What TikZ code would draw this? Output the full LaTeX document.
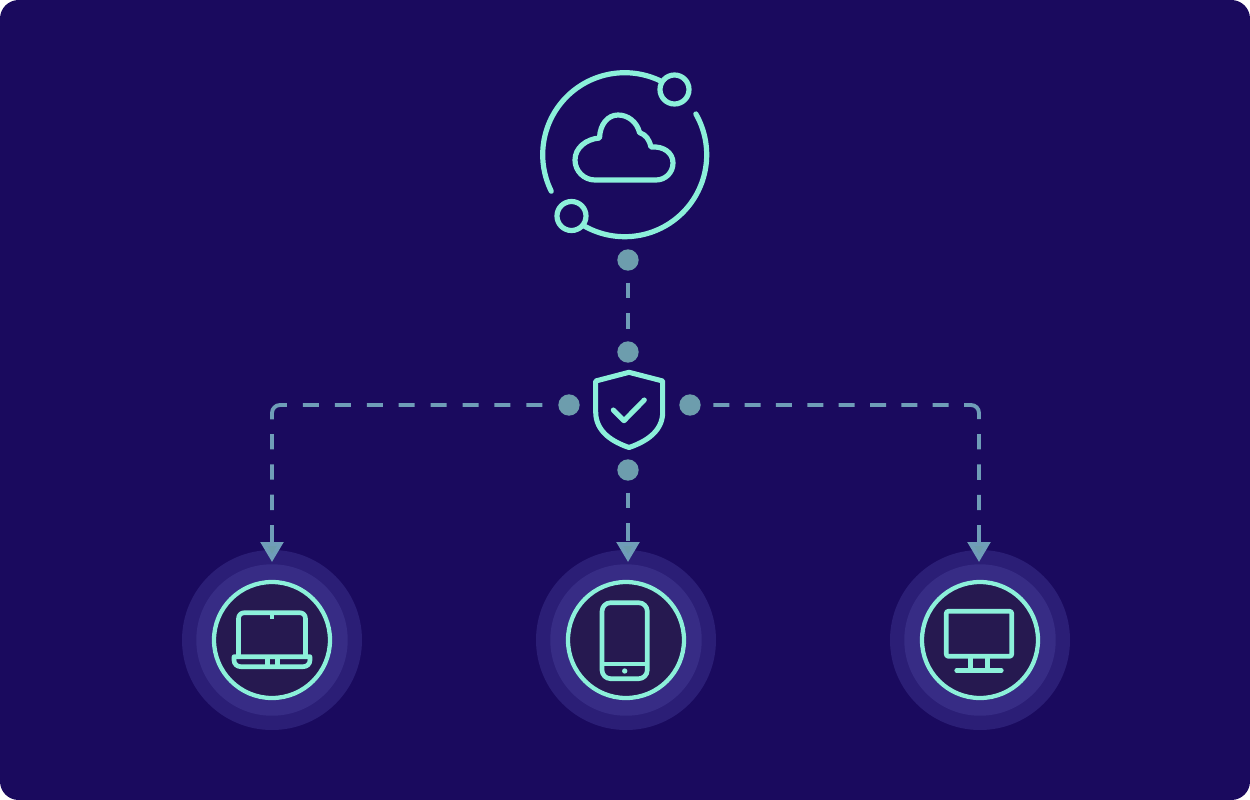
\documentclass[tikz,border=0pt]{standalone}
\usetikzlibrary{arrows.meta}
\definecolor{bgc}{HTML}{1A0A5E}
\definecolor{mint}{HTML}{8CF0DA}
\definecolor{steel}{HTML}{6D9DAD}
\definecolor{dashc}{HTML}{6F9DB8}
\definecolor{haloa}{HTML}{2B1E76}
\definecolor{halob}{HTML}{372C85}
\definecolor{haloc}{HTML}{261950}
\tikzset{
  iconline/.style={draw=mint,line width=3.5pt,line cap=round,line join=round},
  bigline/.style={draw=mint,line width=3.9pt,line cap=round,line join=round},
  haloouter/.style={circle,fill=haloa,inner sep=0pt,outer sep=0pt,minimum size=135pt},
  halomid/.style={circle,fill=halob,inner sep=0pt,outer sep=0pt,minimum size=113.6pt},
  ringnode/.style={circle,draw=mint,fill=haloc,line width=3.2pt,inner sep=0pt,outer sep=0pt,minimum size=87pt},
  dotnode/.style={circle,fill=steel,inner sep=0pt,outer sep=0pt,minimum size=16pt},
  planet/.style={circle,draw=mint,fill=bgc,line width=3.9pt,inner sep=0pt,outer sep=0pt,minimum size=21.75pt},
  flowline/.style={draw=dashc,line width=2.9pt,-{Triangle[width=16.9pt,length=15pt,fill=steel]},shorten >=1.7pt},
  plainflow/.style={draw=dashc,line width=2.9pt},
}
\begin{document}
\begin{tikzpicture}[x=0.75pt,y=-0.75pt]
\useasboundingbox (0,0) rectangle (1250,800);
\fill[white] (0,0) rectangle (1250,800);
\fill[bgc,rounded corners=14pt] (0,0) rectangle (1250,800);

% device halos
\node[haloouter] (haloL) at (272,640) {};
\node[halomid]   (midL)  at (272,640) {};
\node[ringnode]  (ringL) at (272,640) {};
\node[haloouter] (haloM) at (626,640) {};
\node[halomid]   (midM)  at (626,640) {};
\node[ringnode]  (ringM) at (626,640) {};
\node[haloouter] (haloR) at (980,640) {};
\node[halomid]   (midR)  at (980,640) {};
\node[ringnode]  (ringR) at (980,640) {};

% dots
\node[dotnode] (dotC) at (628,260) {};
\node[dotnode] (dotT) at (628,352) {};
\node[dotnode] (dotL) at (569,405) {};
\node[dotnode] (dotR) at (690,405) {};
\node[dotnode] (dotB) at (628,470) {};
\coordinate (cornerL) at (272,405);
\coordinate (cornerR) at (979,405);

% connectors
\draw[plainflow,dash pattern=on 0pt off 9pt on 11.7pt off 11.25pt on 11.8pt off 30pt] (dotC.south) -- (dotT.north);
\draw[flowline,dash pattern=on 0pt off 9pt on 11.7pt off 11.25pt on 13.5pt off 30pt] (dotB.south) -- (dotB.south |- midM.north);
\draw[flowline,rounded corners=6pt,
  dash pattern=on 0pt off 12pt on 12pt off 11.93pt on 12pt off 11.93pt on 12pt off 11.93pt on 12pt off 11.93pt on 12pt off 11.93pt on 12pt off 11.93pt on 12pt off 11.93pt on 12pt off 12pt on 19.4pt off 11pt on 11.5pt off 11.25pt on 11.5pt off 11.25pt on 11.5pt off 11.25pt on 13.5pt off 30pt]
  (dotL.west) -- (cornerL) -- (cornerL |- midL.north);
\draw[flowline,rounded corners=6pt,
  dash pattern=on 0pt off 9.45pt on 12pt off 11.51pt on 12pt off 11.51pt on 12pt off 11.51pt on 12pt off 11.51pt on 12pt off 11.51pt on 12pt off 11.51pt on 12pt off 11.51pt on 12pt off 11.66pt on 19pt off 11.25pt on 11.5pt off 11.25pt on 11.5pt off 11.25pt on 11.5pt off 11.25pt on 13.5pt off 30pt]
  (dotR.east) -- (cornerR) -- (cornerR |- midR.north);

% cloud emblem
\draw[bigline] plot[domain=64.3:206.4,samples=70,smooth] ({624.7+82*cos(\x)},{154.7-82*sin(\x)});
\draw[bigline] plot[domain=29.8:-119.5,samples=70,smooth] ({624.7+82*cos(\x)},{154.7-82*sin(\x)});
\node[planet] (planetA) at (674.5,89.5) {};
\node[planet] (planetB) at (571.5,216) {};
\draw[iconline,line width=3.9pt] (595,180) -- (656,180)
  .. controls (665.5,180) and (673,172.5) .. (673,163)
  .. controls (673,153) and (664,146) .. (651,147)
  .. controls (649,139) and (646,135) .. (639.5,132.5)
  .. controls (637,122) and (628,115) .. (618,115)
  .. controls (608,115) and (600,124) .. (599.5,138)
  .. controls (586,139) and (575,148) .. (575,160)
  .. controls (575,171) and (584,180) .. (595,180) -- cycle;

% shield
\draw[iconline,line width=3.8pt] (629,372.3) -- (662.7,381) -- (662.7,412)
  .. controls (662.7,432) and (645,442) .. (629,447.5)
  .. controls (613,442) and (595.7,432) .. (595.7,412)
  -- (595.7,381) -- cycle;
\draw[iconline,line width=3.8pt] (613.3,410) -- (624,420.7) -- (644.3,400);

% laptop
\draw[iconline] (238.5,656.7) -- (238.5,618.7) .. controls (238.5,615) and (241,612.7) .. (244.5,612.7)
  -- (299.5,612.7) .. controls (303,612.7) and (305.5,615) .. (305.5,618.7) -- (305.5,656.7);
\draw[iconline,line cap=butt] (272,612.7) -- (272,618.6);
\draw[iconline] (234,656.7) -- (310,656.7) -- (310,660) .. controls (310,664) and (307,666.7) .. (303,666.7)
  -- (241,666.7) .. controls (237,666.7) and (234,664) .. (234,660) -- cycle;
\draw[iconline,line cap=butt] (267.3,656.7) -- (267.3,666.7);
\draw[iconline,line cap=butt] (277.7,656.7) -- (277.7,666.7);

% phone
\draw[iconline,rounded corners=6.5pt] (602,602.7) rectangle (647.3,678.7);
\draw[iconline,line cap=butt] (602,664) -- (647.3,664);
\fill[mint] (624.7,671) circle[radius=2pt];

% monitor
\draw[iconline,rounded corners=1.5pt] (946.3,611.3) rectangle (1011.7,656.3);
\draw[iconline,line cap=butt] (970.3,656.3) -- (970.3,670);
\draw[iconline,line cap=butt] (987.7,656.3) -- (987.7,670);
\draw[iconline] (956.7,670.3) -- (1001.3,670.3);
\end{tikzpicture}
\end{document}
